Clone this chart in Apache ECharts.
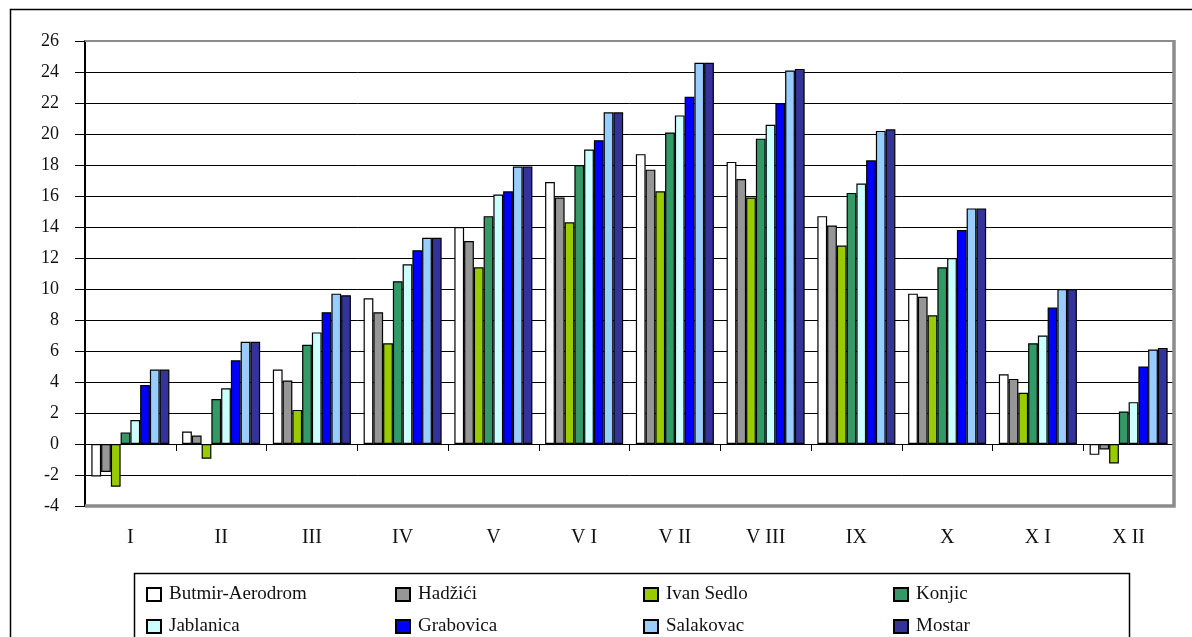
<!DOCTYPE html>
<html>
<head>
<meta charset="utf-8">
<script src="https://cdn.jsdelivr.net/npm/echarts@6/dist/echarts.min.js"></script>
<style>
html, body { margin: 0; padding: 0; background: #fff; }
#chart { width: 1192px; height: 637px; }
</style>
</head>
<body>
<div id="chart"></div>
<script>
// months (roman numerals) and monthly mean temperatures per station
var months = ['I', 'II', 'III', 'IV', 'V', 'VI', 'VII', 'VIII', 'IX', 'X', 'XI', 'XII'];
var stations = ['Butmir-Aerodrom', 'Hadžići', 'Ivan Sedlo', 'Konjic',
                'Jablanica', 'Grabovica', 'Salakovac', 'Mostar'];
var colors = ['#ffffff', '#969696', '#99cc00', '#339966',
              '#ccffff', '#0000ff', '#99ccff', '#333399'];

var butmir    = [-2.1, 0.8, 4.8, 9.4, 14.0, 16.9, 18.7, 18.2, 14.7, 9.7, 4.5, -0.7];
var hadzici   = [-1.8, 0.55, 4.1, 8.5, 13.1, 15.9, 17.7, 17.1, 14.1, 9.5, 4.2, -0.35];
var ivanSedlo = [-2.75, -0.95, 2.2, 6.5, 11.4, 14.3, 16.3, 15.9, 12.8, 8.3, 3.3, -1.25];
var konjic    = [0.75, 2.9, 6.4, 10.5, 14.7, 18.0, 20.1, 19.7, 16.2, 11.4, 6.5, 2.1];
var jablanica = [1.55, 3.6, 7.2, 11.6, 16.1, 19.0, 21.2, 20.6, 16.8, 12.0, 7.0, 2.7];
var grabovica = [3.8, 5.4, 8.5, 12.5, 16.3, 19.6, 22.4, 22.0, 18.3, 13.8, 8.8, 5.0];
var salakovac = [4.8, 6.6, 9.7, 13.3, 17.9, 21.4, 24.6, 24.1, 20.2, 15.2, 10.0, 6.1];
var mostar    = [4.8, 6.6, 9.6, 13.3, 17.9, 21.4, 24.6, 24.2, 20.3, 15.2, 10.0, 6.2];

var values = [butmir, hadzici, ivanSedlo, konjic, jablanica, grabovica, salakovac, mostar];

var font = '"Liberation Serif", "DejaVu Serif", serif';

// legend laid out as a 4 x 2 table
var legendCols = [141, 390, 638, 888];
var legendRows = [580, 612];

var chart = echarts.init(document.getElementById('chart'));

var series = stations.map(function (name, i) {
    return {
        name: name,
        type: 'bar',
        xAxisIndex: 0,
        data: values[i],
        barGap: '0%',
        barCategoryGap: '14%',
        itemStyle: {color: colors[i], borderColor: '#000', borderWidth: 1.2}
    };
});

var legends = stations.map(function (name, i) {
    return {
        data: [name],
        left: legendCols[i % 4],
        top: legendRows[Math.floor(i / 4)],
        icon: 'rect',
        itemWidth: 14,
        itemHeight: 13,
        itemStyle: {borderColor: '#000', borderWidth: 2},
        textStyle: {fontFamily: font, fontSize: 19, color: '#111', padding: [0, 0, 0, 3]},
        selectedMode: false
    };
});

chart.setOption({
    animation: false,
    backgroundColor: '#fff',
    grid: {left: 85, top: 41, right: 18, bottom: 131},
    legend: legends,
    xAxis: [{
        type: 'category',
        data: months,
        axisLine: {onZero: true, lineStyle: {color: '#000', width: 1}},
        axisTick: {show: true, length: 7, lineStyle: {color: '#000'}},
        axisLabel: {show: false}
    }, {
        type: 'category',
        data: months,
        position: 'bottom',
        axisLine: {show: false, onZero: false},
        axisTick: {show: false},
        axisLabel: {
            margin: 22,
            fontFamily: font,
            fontSize: 20,
            color: '#111',
            formatter: function (v) {
                return v.replace(/^([VX])(I+)$/, '$1 $2');
            }
        }
    }],
    yAxis: {
        type: 'value',
        min: -4,
        max: 26,
        interval: 2,
        axisLine: {show: true, lineStyle: {color: '#000', width: 2}},
        axisTick: {show: true, length: 10, lineStyle: {color: '#000'}},
        axisLabel: {margin: 26, fontFamily: font, fontSize: 18, color: '#111'},
        splitLine: {show: true, lineStyle: {color: '#000', width: 1}}
    },
    graphic: [
        // outer frame
        {type: 'rect', left: 8, top: 7, shape: {width: 1200, height: 700},
         style: {fill: 'none', stroke: '#000', lineWidth: 1.5}, z: 0},
        // plot area frame: thin grey top, thick grey right and bottom
        {type: 'polyline', shape: {points: [[85, 41], [1174, 41]]},
         style: {stroke: '#8c8c8c', lineWidth: 2}, z: 100},
        {type: 'polyline', shape: {points: [[1174, 40], [1174, 506], [85, 506]]},
         style: {stroke: '#8c8c8c', lineWidth: 3.5, fill: 'none'}, z: 100},
        // legend box
        {type: 'rect', left: 132, top: 571, shape: {width: 995, height: 65},
         style: {fill: 'none', stroke: '#000', lineWidth: 1.5}, z: 0}
    ],
    series: series
});
</script>
</body>
</html>
